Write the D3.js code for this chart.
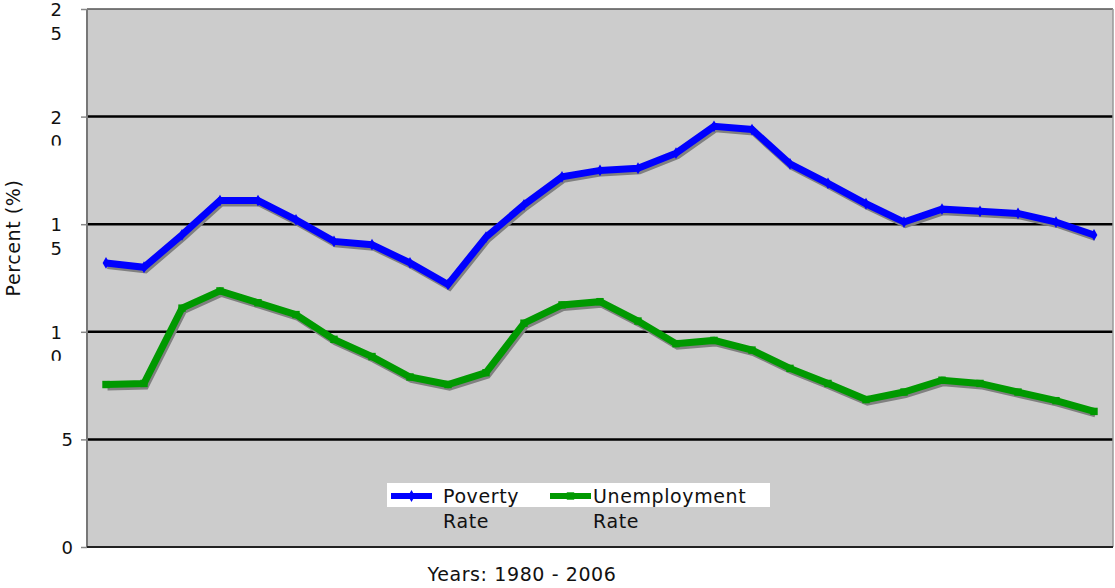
<!DOCTYPE html>
<html>
<head>
<meta charset="utf-8">
<script src="https://cdn.jsdelivr.net/npm/d3@7"></script>
<style>
  body { margin: 0; background: #fff; }
  svg { display: block; font-family: "DejaVu Sans", Verdana, sans-serif; }
</style>
</head>
<body>
<svg id="chart" width="1115" height="588"></svg>
<script>
// data
const years = [1980, 1981, 1982, 1983, 1984, 1985, 1986, 1987, 1988, 1989,
               1990, 1991, 1992, 1993, 1994, 1995, 1996, 1997, 1998, 1999,
               2000, 2001, 2002, 2003, 2004, 2005, 2006];
const povertyRate = [13.2, 13.0, 14.5, 16.1, 16.1, 15.2, 14.2, 14.05, 13.2, 12.2,
                     14.4, 15.9, 17.2, 17.5, 17.6, 18.3, 19.55, 19.4, 17.8, 16.9,
                     15.95, 15.1, 15.7, 15.6, 15.5, 15.1, 14.5];
const unemploymentRate = [7.55, 7.6, 11.1, 11.9, 11.35, 10.8, 9.65, 8.85, 7.9, 7.55,
                          8.1, 10.4, 11.25, 11.4, 10.5, 9.45, 9.6, 9.15, 8.3, 7.6,
                          6.85, 7.2, 7.75, 7.6, 7.2, 6.8, 6.3];
const yTicks = [0, 5, 10, 15, 20, 25];

const seriesList = [
  {name: "Poverty", name2: "Rate", values: povertyRate, color: "#0000ff", marker: "diamond"},
  {name: "Unemployment", name2: "Rate", values: unemploymentRate, color: "#009900", marker: "square"}
];

let svg = d3.select("#chart");

let plotLeft = 87, plotRight = 1113, plotTop = 9, plotBottom = 547;

let x = d3.scalePoint()
    .domain(years)
    .range([plotLeft, plotRight])
    .padding(0.5);

let y = d3.scaleLinear()
    .domain([0, 25])
    .range([plotBottom, plotTop]);

// plot area
svg.append("rect")
    .attr("x", plotLeft).attr("y", plotTop)
    .attr("width", plotRight - plotLeft).attr("height", plotBottom - plotTop)
    .attr("fill", "#cccccc");

// grid lines
svg.append("g")
    .selectAll("line")
    .data(yTicks.filter(d => d > 0))
    .enter()
    .append("line")
    .attr("x1", plotLeft).attr("x2", plotRight)
    .attr("y1", d => y(d)).attr("y2", d => y(d))
    .attr("stroke", d => d == 25 ? "#555" : "#000")
    .attr("stroke-width", d => d == 25 ? 1.5 : 2.5);

// borders
svg.append("line")
    .attr("x1", plotLeft).attr("x2", plotLeft).attr("y1", plotTop).attr("y2", plotBottom)
    .attr("stroke", "#777").attr("stroke-width", 2);
svg.append("line")
    .attr("x1", plotRight).attr("x2", plotRight).attr("y1", plotTop).attr("y2", plotBottom)
    .attr("stroke", "#999").attr("stroke-width", 1.5);
svg.append("line")
    .attr("x1", plotLeft).attr("x2", plotRight).attr("y1", plotBottom).attr("y2", plotBottom)
    .attr("stroke", "#222").attr("stroke-width", 2);

// y axis ticks and labels (the two digit labels wrap, as in the reference)
let yAxis = d3.axisLeft(y).tickValues(yTicks).tickSize(6).tickFormat("");
let ax = svg.append("g")
    .attr("transform", "translate(" + plotLeft + ",0)")
    .call(yAxis);
ax.select(".domain").remove();
ax.selectAll(".tick line").attr("stroke", "#888").attr("stroke-width", 1.5);

let defs = svg.append("defs");
yTicks.forEach(function(t, i){
  let label = String(t);
  let ty = y(t);
  // the wrapped "0" is cut off at the bottom in the reference
  let clipH = label.length > 1 && label[1] == "0" ? 49 : 53;
  defs.append("clipPath").attr("id", "clip" + i)
    .append("rect")
    .attr("x", 0).attr("y", ty - 20).attr("width", 80).attr("height", clipH);
  let txt = svg.append("text")
      .attr("clip-path", "url(#clip" + i + ")")
      .attr("font-size", "18px")
      .attr("fill", "#111")
      .attr("text-anchor", "end");
  if(label.length > 1){
    label.split("").forEach(function(ch, k){
      txt.append("tspan")
        .attr("x", 62)
        .attr("y", ty + 7 + k * 24)
        .text(ch);
    });
  } else {
    txt.attr("x", 73).attr("y", ty + 7).text(label);
  }
});

// axis titles
svg.append("text")
    .attr("transform", "rotate(-90)")
    .attr("x", -238).attr("y", 20)
    .attr("text-anchor", "middle")
    .attr("font-size", "19px")
    .attr("letter-spacing", "0.6px")
    .attr("fill", "#111")
    .text("Percent (%)");

svg.append("text")
    .attr("x", 522).attr("y", 581)
    .attr("text-anchor", "middle")
    .attr("font-size", "19px")
    .attr("letter-spacing", "0.6px")
    .attr("fill", "#111")
    .text("Years: 1980 - 2006");

// lines with shadow
let line = d3.line()
    .x((d, i) => x(years[i]))
    .y(d => y(d));

seriesList.forEach(function(s){
  svg.append("path")
    .datum(s.values)
    .attr("d", line)
    .attr("transform", "translate(1.5,2.5)")
    .attr("fill", "none")
    .attr("stroke", "#808080")
    .attr("stroke-width", 7)
    .attr("stroke-linejoin", "miter");
});

seriesList.forEach(function(s){
  svg.append("path")
    .datum(s.values)
    .attr("d", line)
    .attr("fill", "none")
    .attr("stroke", s.color)
    .attr("stroke-width", 7)
    .attr("stroke-linejoin", "miter");

  let sym = s.marker == "diamond" ? d3.symbolDiamond : d3.symbolSquare;
  svg.append("g")
    .selectAll("path")
    .data(s.values)
    .enter()
    .append("path")
    .attr("transform", (d, i) => "translate(" + x(years[i]) + "," + y(d) + ")")
    .attr("d", d3.symbol().type(sym).size(s.marker == "diamond" ? 40 : 55))
    .attr("fill", s.color);
});

// legend
let legend = svg.append("g");
legend.append("rect")
    .attr("x", 387).attr("y", 483)
    .attr("width", 383).attr("height", 24)
    .attr("fill", "#fff");

let legendX = [391, 550];
let textX = [443, 593];
seriesList.forEach(function(s, i){
  legend.append("line")
    .attr("x1", legendX[i]).attr("x2", legendX[i] + 41)
    .attr("y1", 496).attr("y2", 496)
    .attr("stroke", s.color).attr("stroke-width", 6);
  let sym = s.marker == "diamond" ? d3.symbolDiamond : d3.symbolSquare;
  legend.append("path")
    .attr("transform", "translate(" + (legendX[i] + 20.5) + ",496)")
    .attr("d", d3.symbol().type(sym).size(s.marker == "diamond" ? 40 : 55))
    .attr("fill", s.color);
  let t = legend.append("text")
    .attr("font-size", "19px")
    .attr("letter-spacing", "0.6px")
    .attr("fill", "#111");
  t.append("tspan").attr("x", textX[i]).attr("y", 503).text(s.name);
  t.append("tspan").attr("x", textX[i]).attr("y", 528).text(s.name2);
});
</script>
</body>
</html>
